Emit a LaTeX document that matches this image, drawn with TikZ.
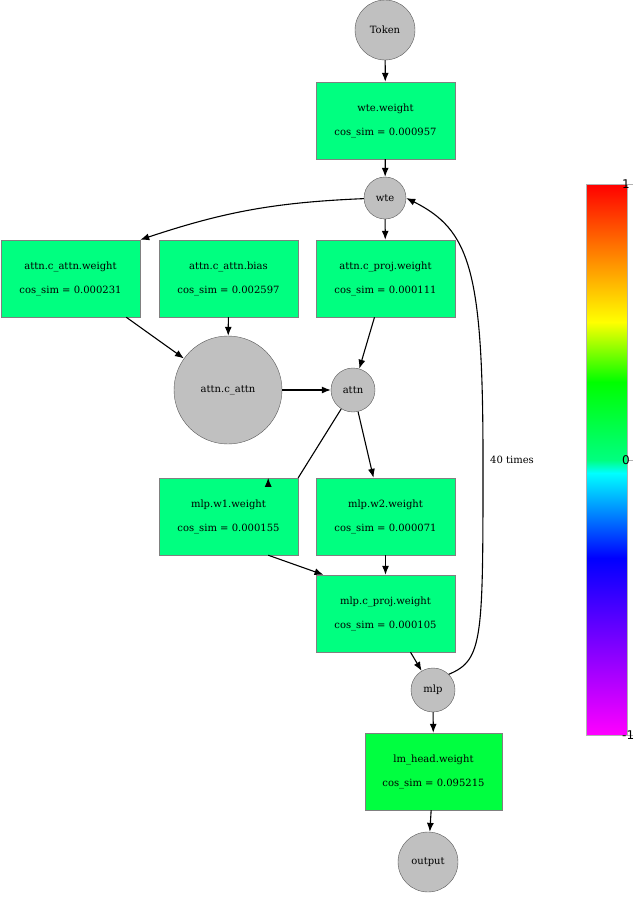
\documentclass[tikz,border=0pt]{standalone}
\usepackage{fontspec}
\setmainfont{DejaVu Serif}
\newfontfamily\sansf{DejaVu Sans}
\usetikzlibrary{arrows.meta}
\definecolor{boxg}{HTML}{00FF80}
\definecolor{boxl}{HTML}{00FF40}
\definecolor{circg}{HTML}{C0C0C0}
\begin{document}
\begin{tikzpicture}[x=1pt,y=-1pt,
  box/.style={draw=gray,fill=boxg,minimum width=139pt,minimum height=77pt,inner sep=0pt,align=center,font=\fontsize{10}{12}\selectfont},
  circ/.style={draw=gray!70!black,fill=circg,circle,inner sep=0pt,font=\fontsize{10}{12}\selectfont},
  arr/.style={-{Latex[length=9pt,width=7pt]},line width=1.1pt}]
\useasboundingbox (0,0) rectangle (640,899);
\node[circ,minimum size=60pt] (tok) at (385,30) {Token};
\node[box] (wtew) at (385.5,120.5) {wte.weight\\[12pt]cos\_sim = 0.000957};
\node[circ,minimum size=42pt] (wte) at (385,198) {wte};
\node[box] (caw) at (70.5,278.5) {attn.c\_attn.weight\\[12pt]cos\_sim = 0.000231};
\node[box] (cab) at (228.5,278.5) {attn.c\_attn.bias\\[12pt]cos\_sim = 0.002597};
\node[box] (cpw) at (385.5,278.5) {attn.c\_proj.weight\\[12pt]cos\_sim = 0.000111};
\node[circ,minimum size=108pt] (ca) at (228,390) {attn.c\_attn};
\node[circ,minimum size=44pt] (attn) at (353,390) {attn};
\node[box] (w1) at (228.5,516.5) {mlp.w1.weight\\[12pt]cos\_sim = 0.000155};
\node[box] (w2) at (385.5,516.5) {mlp.w2.weight\\[12pt]cos\_sim = 0.000071};
\node[box] (mcp) at (385.5,613.5) {mlp.c\_proj.weight\\[12pt]cos\_sim = 0.000105};
\node[circ,minimum size=44pt] (mlp) at (433,690) {mlp};
\node[box,fill=boxl,minimum width=137pt] (lm) at (433.5,771.5) {lm\_head.weight\\[12pt]cos\_sim = 0.095215};
\node[circ,minimum size=60pt] (out) at (428,862) {output};
\draw[arr] (tok) -- (wtew);
\draw[arr] (wtew) -- (wte);
\draw[arr] (wte) to[bend right=8] (caw.north east);
\draw[arr] (wte) -- (cpw);
\draw[arr] (caw.south east) ++(-14,0) coordinate (c1) (c1) -- (ca);
\draw[arr] (cab) -- (ca);
\draw[arr] (cpw.south) ++(-11,0) coordinate (c2) (c2) -- (attn);
\draw[arr] (ca) -- (attn);
\draw[arr] (attn) -- (w1.north east) ++(-30,0);
\draw[arr] (attn) -- ([xshift=-12pt]w2.north);
\draw[arr] ([xshift=-30pt]w1.south east) coordinate (c3) -- ([xshift=-62pt]mcp.north);
\draw[arr] (w2) -- (mcp);
\draw[arr] ([xshift=25pt]mcp.south) coordinate (c4) -- (mlp);
\draw[arr] (mlp) -- (lm);
\draw[arr] (lm) -- (out);
\draw[arr] (mlp.north east) .. controls (483,660) and (483,640) .. (483,460)
  .. controls (483,270) and (470,230) .. (wte.east);
\node[font=\fontsize{10}{12}\selectfont] (lab) at (512,460) {40 times};
% colorbar
\shade[top color=red,bottom color=yellow] (586,184) rectangle (627,322);
\shade[top color=yellow,bottom color=green] (586,322) rectangle (627,382);
\shade[top color=green,bottom color=boxg] (586,382) rectangle (627,460);
\shade[top color=boxg,bottom color=cyan] (586,460) rectangle (627,473);
\shade[top color=cyan,bottom color=blue] (586,473) rectangle (627,558);
\shade[top color=blue,bottom color=magenta] (586,558) rectangle (627,735);
\draw[gray!60] (586,184) rectangle (627,735);
\foreach \yy/\t in {184/1,460/0,735/-1}{
  \draw[gray!60] (627,\yy) -- (633,\yy);
  \node[anchor=west,inner sep=0pt,font=\sansf\fontsize{12}{14}\selectfont] (t\t) at (622,\yy) {\t};
}
\end{tikzpicture}
\end{document}
